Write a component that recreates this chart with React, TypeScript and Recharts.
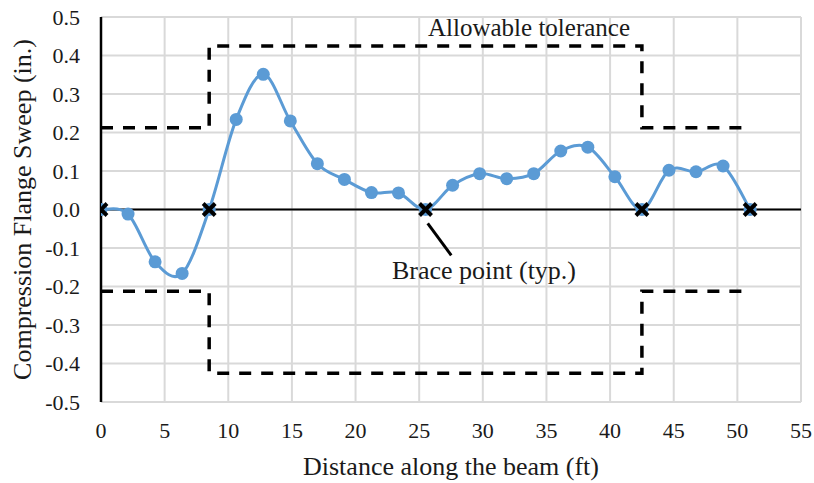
import React from 'react';
import {
  ComposedChart, Line, Scatter, XAxis, YAxis, CartesianGrid, ReferenceLine, ReferenceDot, Label,
} from 'recharts';

// Measurement stations along the beam (ft)
const distances = [
  0, 2.125, 4.25, 6.375, 8.5, 10.625, 12.75, 14.875, 17, 19.125, 21.25, 23.375,
  25.5, 27.625, 29.75, 31.875, 34, 36.125, 38.25, 40.375, 42.5, 44.625, 46.75, 48.875, 51,
];
// Compression flange sweep (in.)
const sweep = [
  0, -0.012, -0.136, -0.166, 0, 0.234, 0.351, 0.230, 0.119, 0.078, 0.044, 0.043,
  0, 0.063, 0.093, 0.080, 0.093, 0.152, 0.162, 0.085, 0, 0.102, 0.098, 0.113, 0,
];
// Brace points (ft)
const braceX = [0, 8.5, 25.5, 42.5, 51];

// Allowable tolerance envelope
const tolX = [0, 8.5, 8.5, 42.5, 42.5, 51];
const tolUpper = [0.2125, 0.2125, 0.425, 0.425, 0.2125, 0.2125];
const tolLower = [-0.2125, -0.2125, -0.425, -0.425, -0.2125, -0.2125];

const xTicks = [0, 5, 10, 15, 20, 25, 30, 35, 40, 45, 50, 55];
const yTicks = [-0.5, -0.4, -0.3, -0.2, -0.1, 0, 0.1, 0.2, 0.3, 0.4, 0.5];

// Annotation anchors (data coordinates)
const toleranceLabelAt = { x: 33.63, y: 0.474 };
const braceLabelAt = { x: 30.09, y: -0.157 };
const leader = [{ x: 25.67, y: -0.036 }, { x: 27.52, y: -0.119 }];

const sweepData = distances.map((x, i) => ({ x, y: sweep[i] }));
const braceData = braceX.map((x) => ({ x, y: 0 }));
const upperData = tolX.map((x, i) => ({ x, y: tolUpper[i] }));
const lowerData = tolX.map((x, i) => ({ x, y: tolLower[i] }));

const FONT = '"Liberation Serif", "Times New Roman", serif';
const BLUE = '#5B9BD5';
const TEXT = '#1a1a1a';

// Excel-style smoothed line (uniform Catmull-Rom as cubic Beziers)
const smoothCurve = (context: any) => {
  let pts: number[][] = [];
  return {
    areaStart() {},
    areaEnd() {},
    lineStart() { pts = []; },
    point(x: number, y: number) { pts.push([+x, +y]); },
    lineEnd() {
      const n = pts.length;
      if (!n) return;
      context.moveTo(pts[0][0], pts[0][1]);
      for (let i = 0; i < n - 1; i++) {
        const p0 = pts[Math.max(i - 1, 0)];
        const p1 = pts[i];
        const p2 = pts[i + 1];
        const p3 = pts[Math.min(i + 2, n - 1)];
        const c1x = p1[0] + (p2[0] - p0[0]) / 6;
        const c1y = p1[1] + (p2[1] - p0[1]) / 6;
        const c2x = p2[0] - (p3[0] - p1[0]) / 6;
        const c2y = p2[1] - (p3[1] - p1[1]) / 6;
        context.bezierCurveTo(c1x, c1y, c2x, c2y, p2[0], p2[1]);
      }
    },
  };
};

const CrossShape = (props: any) => {
  const { cx, cy } = props;
  if (cx == null || cy == null) return null;
  const s = 6;
  return (
    <g>
      <line x1={cx - s} y1={cy - s} x2={cx + s} y2={cy + s} stroke="#000" strokeWidth={4} />
      <line x1={cx - s} y1={cy + s} x2={cx + s} y2={cy - s} stroke="#000" strokeWidth={4} />
    </g>
  );
};

const XTick = (props: any) => {
  const { x, y, payload } = props;
  return (
    <text x={x} y={y} dy="0.71em" textAnchor="middle" fontFamily={FONT} fontSize={22} fill={TEXT}>
      {payload.value}
    </text>
  );
};

const YTick = (props: any) => {
  const { x, y, payload } = props;
  return (
    <text x={x} y={y} dy="0.355em" textAnchor="end" fontFamily={FONT} fontSize={22} fill={TEXT}>
      {Number(payload.value).toFixed(1)}
    </text>
  );
};

export default function App() {
  return (
    <div style={{ position: 'absolute', left: 0, top: 0 }}>
      <ComposedChart
        width={814}
        height={483}
        margin={{ top: 17, right: 13, left: 0, bottom: 0 }}
      >
        <CartesianGrid stroke="#d9d9d9" strokeWidth={2} />
        <XAxis
          type="number"
          dataKey="x"
          domain={[0, 55]}
          ticks={xTicks}
          allowDataOverflow
          axisLine={false}
          tickLine={false}
          tickSize={0}
          tickMargin={20}
          height={81}
          interval={0}
          tick={<XTick />}
        >
          <Label
            value="Distance along the beam (ft)"
            position="insideBottom"
            offset={8}
            style={{ fontFamily: FONT, fontSize: 26, fill: TEXT }}
          />
        </XAxis>
        <YAxis
          type="number"
          dataKey="y"
          domain={[-0.5, 0.5]}
          ticks={yTicks}
          allowDataOverflow
          width={101}
          interval={0}
          axisLine={{ stroke: '#000', strokeWidth: 2.5 }}
          tickLine={false}
          tickSize={0}
          tickMargin={21}
          tick={<YTick />}
        >
          <Label
            value="Compression Flange Sweep (in.)"
            angle={-90}
            position="insideLeft"
            offset={22}
            style={{ fontFamily: FONT, fontSize: 26, fill: TEXT, textAnchor: 'middle' }}
          />
        </YAxis>

        <ReferenceLine y={0} stroke="#000" strokeWidth={2} />

        <Line
          data={upperData}
          dataKey="y"
          type="linear"
          stroke="#000"
          strokeWidth={3.5}
          strokeDasharray="12 10"
          dot={false}
          activeDot={false}
          isAnimationActive={false}
        />
        <Line
          data={lowerData}
          dataKey="y"
          type="linear"
          stroke="#000"
          strokeWidth={3.5}
          strokeDasharray="12 10"
          dot={false}
          activeDot={false}
          isAnimationActive={false}
        />

        <Line
          data={sweepData}
          dataKey="y"
          type={smoothCurve as any}
          stroke={BLUE}
          strokeWidth={3}
          dot={{ r: 6.5, fill: BLUE, stroke: BLUE, strokeWidth: 0 }}
          activeDot={false}
          isAnimationActive={false}
        />

        <Scatter
          data={braceData}
          dataKey="y"
          shape={<CrossShape />}
          isAnimationActive={false}
        />

        <ReferenceLine segment={leader} stroke="#000" strokeWidth={3} />

        <ReferenceDot x={toleranceLabelAt.x} y={toleranceLabelAt.y} r={0} fill="none" stroke="none">
          <Label
            value="Allowable tolerance"
            position="center"
            style={{ fontFamily: FONT, fontSize: 25, fill: TEXT }}
          />
        </ReferenceDot>
        <ReferenceDot x={braceLabelAt.x} y={braceLabelAt.y} r={0} fill="none" stroke="none">
          <Label
            value="Brace point (typ.)"
            position="center"
            style={{ fontFamily: FONT, fontSize: 26, fill: TEXT }}
          />
        </ReferenceDot>
      </ComposedChart>
    </div>
  );
}
